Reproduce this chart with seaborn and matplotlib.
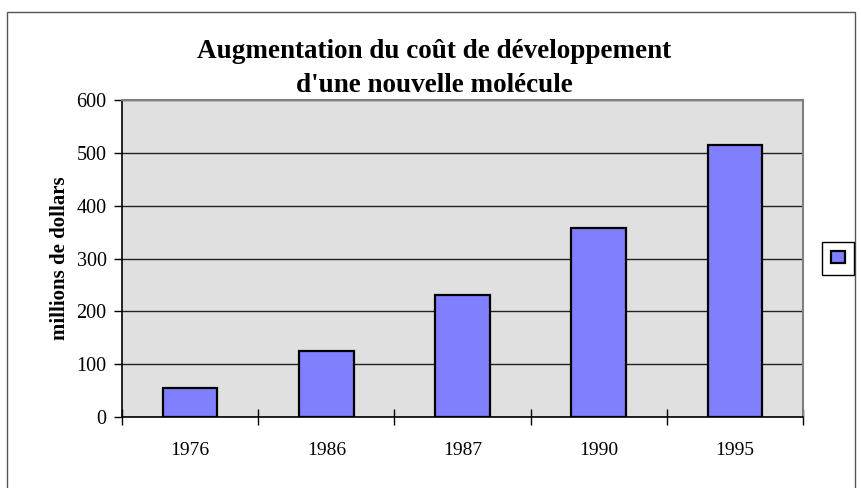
import matplotlib
matplotlib.use("Agg")
import matplotlib.pyplot as plt
from matplotlib.patches import Patch, Rectangle
import numpy as np
import seaborn as sns

# Données (millions de dollars)
annees = ["1976", "1986", "1987", "1990", "1995"]
couts = [54, 124, 230, 357, 515]
graduations_y = [0, 100, 200, 300, 400, 500, 600]

sns.set_style("white")
plt.rcParams['font.family'] = ['Liberation Serif', 'DejaVu Serif']
plt.rcParams['text.color'] = "black"
plt.rcParams['axes.labelcolor'] = "black"
plt.rcParams['xtick.color'] = "black"
plt.rcParams['ytick.color'] = "black"

W, H = 861, 488
fig = plt.figure(figsize=(W / 100, H / 100), dpi=100)
fig.patch.set_facecolor("white")

# zone de tracé (coordonnées en pixels de la référence)
x0, x1, y_top, y_bot = 122, 803, 100, 417
ax = fig.add_axes([x0 / W, 1 - y_bot / H, (x1 - x0) / W, (y_bot - y_top) / H])
ax.set_facecolor("#E0E0E0")

sns.barplot(x=annees, y=couts, color="#8080FF", edgecolor="black",
            linewidth=1.6, width=0.4, saturation=1, ax=ax, zorder=3)

ax.set_ylim(0, 600)
ax.set_xlim(-0.5, len(annees) - 0.5)
ax.set_yticks(graduations_y)
ax.set_yticklabels([str(v) for v in graduations_y], fontsize=14.5)
ax.yaxis.grid(True, color="#222222", linewidth=1)
ax.set_axisbelow(True)

# graduations x : étiquettes au centre, traits entre les catégories
ax.set_xticks(range(len(annees)))
ax.set_xticklabels(annees, fontsize=14)
ax.set_xticks(np.arange(-0.5, len(annees), 1), minor=True)
ax.tick_params(axis="x", which="major", length=0, pad=18, bottom=True)
ax.tick_params(axis="x", which="minor", length=12, direction="inout", width=1,
               color="black", bottom=True)
ax.tick_params(axis="y", length=6, direction="out", width=1, color="black", pad=5, left=True)

for s in ["left", "bottom"]:
    ax.spines[s].set_color("black")
    ax.spines[s].set_linewidth(1.2)
for s in ["top", "right"]:
    ax.spines[s].set_color("#808080")
    ax.spines[s].set_linewidth(1.5)

ax.set_xlabel("")
ax.set_ylabel("millions de dollars", fontsize=15, fontweight="bold", labelpad=5)

fig.text(434 / W, 1 - 68.5 / H, "Augmentation du coût de développement\nd'une nouvelle molécule",
         ha="center", va="center", fontsize=19.5, fontweight="bold", linespacing=1.45)

# légende sans texte
fig.legend(handles=[Patch(facecolor="#8080FF", edgecolor="black", linewidth=1.6)], labels=[""],
           loc="center", bbox_to_anchor=(838 / W, 1 - 258 / H), frameon=True, fancybox=False,
           edgecolor="black", handlelength=0.95, handleheight=0.9, handletextpad=0,
           borderpad=0.7, fontsize=10, framealpha=1)

# cadre extérieur
fig.add_artist(Rectangle((7 / W, -0.1), (855 - 7) / W, 1 - 12 / H + 0.1, transform=fig.transFigure,
                         fill=False, edgecolor="#555555", linewidth=1))

fig.savefig("out.png", dpi=100)
